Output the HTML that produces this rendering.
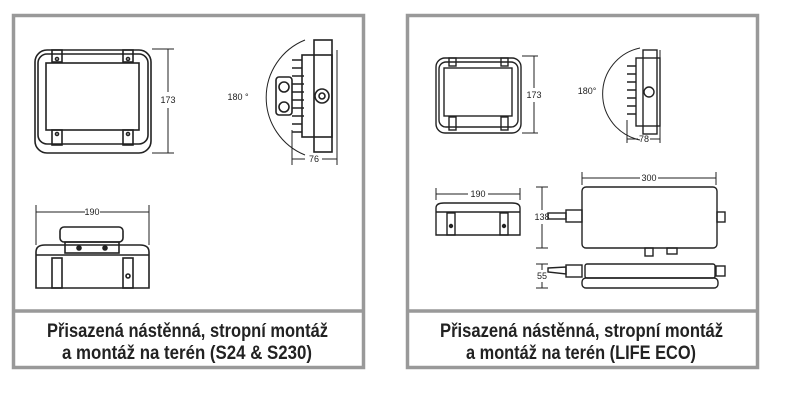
<!DOCTYPE html>
<html><head><meta charset="utf-8"><style>
body{margin:0;background:#fff;width:796px;height:403px;overflow:hidden}
svg{display:block}
.t{font-family:"Liberation Sans",sans-serif;font-weight:bold;font-size:19px;fill:#222}
.d{font-family:"Liberation Sans",sans-serif;font-size:9px;fill:#222}
</style></head><body>
<svg width="796" height="403" viewBox="0 0 796 403" xmlns="http://www.w3.org/2000/svg">
<g fill="none" stroke="#999" stroke-width="3.5">
<rect x="13.5" y="15.5" width="350" height="352"/>
<line x1="13.5" y1="311" x2="363.5" y2="311"/>
<rect x="407.5" y="15.5" width="350" height="352"/>
<line x1="407.5" y1="311" x2="757.5" y2="311"/>
</g>
<text class="t" x="47" y="337" textLength="281" lengthAdjust="spacingAndGlyphs">Přisazená nástěnná, stropní montáž</text>
<text class="t" x="62" y="359" textLength="250" lengthAdjust="spacingAndGlyphs">a montáž na terén (S24 &amp; S230)</text>
<text class="t" x="440" y="337" textLength="283" lengthAdjust="spacingAndGlyphs">Přisazená nástěnná, stropní montáž</text>
<text class="t" x="466" y="359" textLength="230" lengthAdjust="spacingAndGlyphs">a montáž na terén (LIFE ECO)</text>

<g fill="none" stroke="#222" stroke-width="1.6">
<!-- left front -->
<rect x="35" y="50" width="116" height="103" rx="12"/>
<rect x="38" y="54" width="110" height="90" rx="9"/>
<rect x="46" y="63" width="93" height="67"/>
<rect x="52" y="50" width="10" height="12"/><rect x="123" y="50" width="10" height="12"/>
<rect x="52" y="130" width="10" height="15"/><rect x="123" y="130" width="10" height="15"/>
<circle cx="57" cy="59" r="1.5"/><circle cx="128" cy="59" r="1.5"/><circle cx="57" cy="134" r="1.5"/><circle cx="128" cy="134" r="1.5"/>
<line x1="152" y1="49" x2="174" y2="49" stroke-width="1"/><line x1="152" y1="153" x2="174" y2="153" stroke-width="1"/>
<line x1="168" y1="49" x2="168" y2="92" stroke-width="1"/><line x1="168" y1="108" x2="168" y2="153" stroke-width="1"/>
<!-- left side view -->
<path d="M305 40 A62 62 0 0 0 305 155" stroke-width="1"/>
<rect x="314" y="40" width="18" height="112"/>
<rect x="302" y="55" width="30" height="82"/>
<rect x="276" y="77" width="16" height="38" rx="3"/>
<circle cx="284" cy="87" r="5"/><circle cx="284" cy="107" r="5"/>
<path d="M292 60h10M292 68h10M292 76h12M292 84h12M292 92h12M292 100h12M292 108h12M292 116h12M292 124h10M292 132h10"/>
<circle cx="322" cy="96" r="7"/><circle cx="322" cy="96" r="3"/>
<line x1="337" y1="50" x2="337" y2="165" stroke-width="1"/><line x1="292" y1="130" x2="292" y2="165" stroke-width="1"/>
<line x1="292" y1="159" x2="305" y2="159" stroke-width="1"/><line x1="322" y1="159" x2="337" y2="159" stroke-width="1"/>
<!-- left bottom view -->
<line x1="36" y1="205" x2="36" y2="245" stroke-width="1"/><line x1="149" y1="205" x2="149" y2="245" stroke-width="1"/>
<line x1="36" y1="212" x2="85" y2="212" stroke-width="1"/><line x1="100" y1="212" x2="149" y2="212" stroke-width="1"/>
<rect x="60" y="227" width="63" height="15" rx="4"/>
<rect x="65" y="242" width="54" height="11"/>
<path d="M36 288 V252 Q36 245 45 245 H140 Q149 245 149 252 V288 Z"/>
<line x1="36" y1="255" x2="149" y2="255"/>
<rect x="52" y="258" width="10" height="30"/><rect x="123" y="258" width="10" height="30"/>
<circle cx="79" cy="248" r="2" fill="#222"/><circle cx="105" cy="248" r="2" fill="#222"/><circle cx="128" cy="276" r="2"/>
</g>
<text class="d" x="168" y="103" text-anchor="middle">173</text>
<text class="d" x="238" y="100" text-anchor="middle">180 °</text>
<text class="d" x="314" y="162" text-anchor="middle">76</text>
<text class="d" x="92" y="215" text-anchor="middle">190</text>

<g fill="none" stroke="#222" stroke-width="1.4">
<!-- right front -->
<rect x="436" y="58" width="85" height="75" rx="9"/>
<rect x="439" y="62" width="79" height="65" rx="7"/>
<rect x="444" y="68" width="68" height="48"/>
<rect x="449" y="58" width="7" height="8"/><rect x="501" y="58" width="7" height="8"/>
<rect x="449" y="117" width="7" height="13"/><rect x="501" y="117" width="7" height="13"/>
<g stroke-width="1">
<line x1="522" y1="56" x2="538" y2="56"/><line x1="522" y1="133" x2="538" y2="133"/>
<line x1="534" y1="56" x2="534" y2="88"/><line x1="534" y1="102" x2="534" y2="133"/>
</g>
<!-- right side -->
<path d="M640 48 A47 47 0 0 0 640 140" stroke-width="1"/>
<rect x="643" y="50" width="14" height="84"/>
<rect x="636" y="58" width="24" height="68"/>
<path d="M627 66h9M627 74h9M627 82h9M627 90h9M627 98h9M627 106h9M627 114h9"/>
<circle cx="649" cy="92" r="5"/>
<g stroke-width="1">
<line x1="660" y1="50" x2="660" y2="143"/><line x1="627" y1="120" x2="627" y2="143"/>
<line x1="627" y1="139" x2="638" y2="139"/><line x1="650" y1="139" x2="660" y2="139"/>
<line x1="436" y1="188" x2="436" y2="200"/><line x1="520" y1="188" x2="520" y2="200"/>
<line x1="436" y1="194" x2="468" y2="194"/><line x1="488" y1="194" x2="520" y2="194"/>
<line x1="582" y1="172" x2="582" y2="185"/><line x1="716" y1="172" x2="716" y2="185"/>
<line x1="582" y1="178" x2="640" y2="178"/><line x1="658" y1="178" x2="716" y2="178"/>
<line x1="536" y1="187" x2="548" y2="187"/><line x1="536" y1="248" x2="548" y2="248"/>
<line x1="542" y1="187" x2="542" y2="210"/><line x1="542" y1="224" x2="542" y2="248"/>
<line x1="536" y1="264" x2="548" y2="264"/><line x1="536" y1="288" x2="548" y2="288"/>
<line x1="542" y1="264" x2="542" y2="270"/><line x1="542" y1="282" x2="542" y2="288"/>
</g>
<!-- right bottom small -->
<path d="M436 235 V208 Q436 203 444 203 H512 Q520 203 520 208 V235 Z"/>
<line x1="436" y1="212" x2="520" y2="212"/>
<rect x="447" y="213" width="8" height="22"/><rect x="500" y="213" width="8" height="22"/>
<circle cx="451" cy="226" r="1.5" fill="#222"/><circle cx="504" cy="226" r="1.5" fill="#222"/>
<!-- big box -->
<rect x="582" y="187" width="135" height="61" rx="4"/>
<rect x="566" y="210" width="16" height="12"/><rect x="548" y="213" width="18" height="6"/>
<rect x="717" y="212" width="8" height="10"/>
<rect x="645" y="248" width="8" height="8"/><rect x="667" y="248" width="10" height="6"/>
<!-- strip -->
<rect x="585" y="264" width="130" height="14" rx="2"/>
<rect x="582" y="278" width="136" height="10" rx="4"/>
<rect x="566" y="265" width="16" height="12"/><path d="M548 268 L566 267 V274 L548 272 Z"/>
<rect x="716" y="266" width="9" height="10"/>
</g>
<text class="d" x="534" y="98" text-anchor="middle">173</text>
<text class="d" x="587" y="94" text-anchor="middle">180°</text>
<text class="d" x="644" y="142" text-anchor="middle">78</text>
<text class="d" x="478" y="197" text-anchor="middle">190</text>
<text class="d" x="649" y="181" text-anchor="middle">300</text>
<text class="d" x="542" y="220" text-anchor="middle">138</text>
<text class="d" x="542" y="279" text-anchor="middle">55</text>
</svg>
</body></html>
